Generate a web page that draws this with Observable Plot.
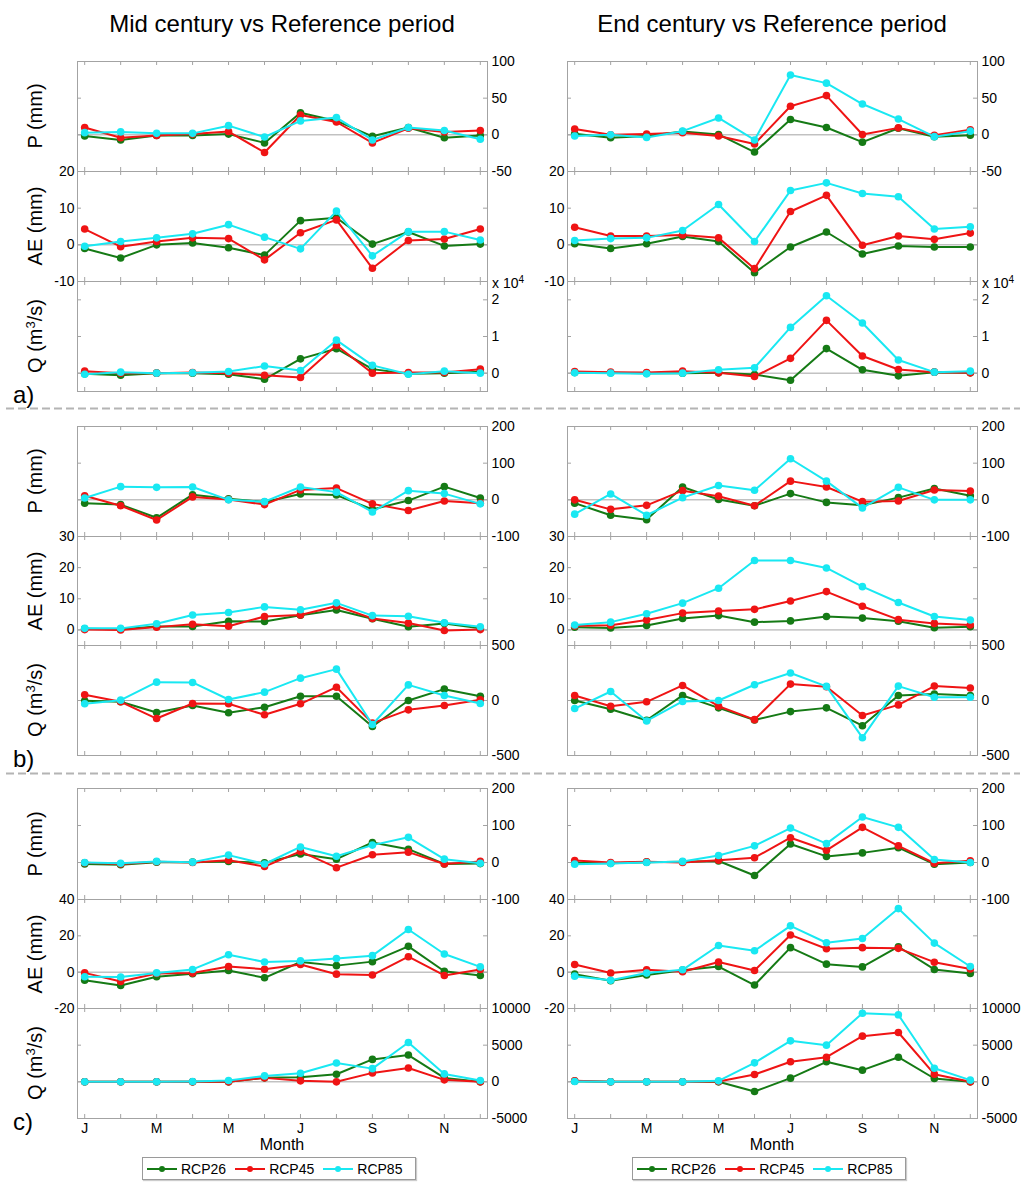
<!DOCTYPE html>
<html><head><meta charset="utf-8">
<script src="https://cdn.jsdelivr.net/npm/d3@7"></script>
<script src="https://cdn.jsdelivr.net/npm/@observablehq/plot@0.6"></script>
<style>
body{margin:0;background:#fff;font-family:"Liberation Sans",Arial,sans-serif;color:#000;}
#root{position:relative;width:1024px;height:1194px;overflow:hidden;background:#fff;}
.abs{position:absolute;white-space:nowrap;}
.title{font-size:24px;line-height:24px;transform:translateX(-50%);}
.ylab{font-size:20px;line-height:20px;transform:translate(-50%,-50%) rotate(-90deg);}
.ylab sup{font-size:13px;vertical-align:7px;line-height:0;}
.glab{font-size:24px;line-height:24px;}
.mult{font-size:14px;line-height:14px;}
.mult sup{font-size:10px;vertical-align:5px;line-height:0;}
.month{font-size:16px;line-height:16px;transform:translateX(-50%);}
.legend{border:1px solid #9a9a9a;box-shadow:1px 1px 1px #ccc;height:23px;display:flex;align-items:center;padding:0 4px;box-sizing:border-box;font-size:14px;}
.legend .it{display:flex;align-items:center;margin-right:9px;}
.legend svg{margin-right:4px;}
</style></head><body><div id="root"></div>
<script>
// ---------- data ----------
const months = [1,2,3,4,5,6,7,8,9,10,11,12];
const monthTicks = [1,3,5,7,9,11];
const monthLetters = ["J","F","M","A","M","J","J","A","S","O","N","D"];
const series = ["RCP26","RCP45","RCP85"];
const columnTitles = ["Mid century vs Reference period","End century vs Reference period"];
const groupLabels = ["a)","b)","c)"];
const varLabels = ["P (mm)","AE (mm)","Q (m<sup>3</sup>/s)"];

// each: [RCP26, RCP45, RCP85], Jan..Dec
const a_mid_P = [
  [-1.5,-7,-1,-1,1,-11,30,19,-2,10,-4,-1],
  [10,-4,-1,1,4.5,-24,27,17.5,-11,9,4,6],
  [3,4,2,2,12.5,-3,19,23.5,-7,10,6,-6]];
const a_mid_AE = [
  [-1,-3.6,0,0.5,-0.8,-2.8,6.6,7.4,0.2,3.5,-0.3,0.2],
  [4.3,-0.5,0.9,1.9,1.7,-4.1,3.3,6.8,-6.4,1.2,1.6,4.3],
  [-0.4,0.9,1.9,3,5.5,2.1,-1.1,9.2,-3,3.6,3.6,1.3]];
const a_mid_Q = [
  [-185,-550,0,0,-280,-1670,3900,6670,1100,-185,0,370],
  [550,0,0,185,0,-550,-1200,7600,0,200,200,1100],
  [-280,280,0,90,460,1940,740,9000,2130,-280,550,0]];
const a_end_P = [
  [1.5,-4,-1.5,4.5,0.5,-23.5,21,10,-10,9,-2.5,-0.5],
  [8,0,1,3,-1.5,-12.5,39,53.5,0.5,9.5,-0.5,7],
  [-1.5,0,-3.5,5,23,-7,81.5,70.5,42,21.5,-2.5,5]];
const a_end_AE = [
  [0.3,-1,0.3,2.3,0.9,-7.6,-0.6,3.5,-2.5,-0.3,-0.6,-0.6],
  [4.8,2.4,2.4,2.7,1.9,-6.5,9.1,13.5,-0.1,2.4,1.5,3.2],
  [1.2,1.7,1.9,3.9,11,0.9,14.8,16.9,14,13.1,4.3,4.9]];
const a_end_Q = [
  [180,90,0,0,90,-370,-1930,6700,920,-730,275,90],
  [460,275,180,550,90,-920,4040,14400,4680,1000,275,90],
  [90,0,-180,0,920,1470,12480,21100,13670,3580,275,550]];

const b_mid_P = [
  [-9,-13,-49,14,3,-6,16,13,-26,-2,36,5],
  [11,-16,-55,8,1,-13,27,32,-11,-29,-3,-9],
  [5,36,34,35,0,-5,35,21,-33,25,17,-11]];
const b_mid_AE = [
  [0.4,0.2,1.1,1.1,2.8,2.7,4.7,6.4,3.6,1,2.1,0.5],
  [0.1,0,0.9,1.8,1.2,4.3,4.8,7.7,3.7,2.2,-0.2,0.1],
  [0.5,0.5,2,4.8,5.6,7.4,6.5,8.7,4.6,4.4,2.3,1]];
const b_mid_Q = [
  [-3,-12,-109,-45,-112,-61,39,39,-236,0,103,39],
  [52,-12,-164,-27,-30,-130,-30,121,-206,-85,-45,6],
  [-30,3,167,164,9,76,203,285,-218,142,45,-27]];
const b_end_P = [
  [-9,-42,-54,35,1,-16,17,-7,-15,6,31,11],
  [0,-26,-15,25,10,-16,51,35,-5,-3,27,24],
  [-39,16,-42,6,39,26,112,51,-22,34,0,0]];
const b_end_AE = [
  [0.9,0.6,1.4,3.7,4.6,2.5,2.9,4.3,3.8,2.8,0.7,1],
  [1.3,1.5,3.2,5.4,6.1,6.6,9.3,12.3,7.6,3.3,2.1,1.6],
  [1.6,2.5,5.2,8.6,13.4,22.3,22.3,19.9,13.9,8.8,4.3,3.2]];
const b_end_Q = [
  [0,-79,-180,46,-67,-177,-101,-67,-229,46,58,46],
  [46,-52,-12,137,-52,-174,149,125,-137,-40,131,113],
  [-73,82,-186,-9,0,143,250,128,-338,131,30,30]];

const c_mid_P = [
  [-4,-6,1,1,3,-1,23,9,54,36,-4,-3],
  [-1,-4,2,0,6,-11,30,-14,21,28,-4,3],
  [0,-2,3,1,20,-4,42,17,47,68,9,-2]];
const c_mid_AE = [
  [-4.4,-7.3,-2.5,-0.9,0.9,-3.1,5.6,3.6,5.8,14.2,0.5,-1.8],
  [-0.4,-5.1,-0.7,-0.5,3.1,1.6,4.2,-1.1,-1.6,8.5,-1.8,1.5],
  [-2.5,-2.7,-0.4,1.5,9.6,5.6,6.2,7.5,9.1,23.5,10,2.9]];
const c_mid_Q = [
  [0,0,0,0,0,540,630,1040,3060,3650,540,0],
  [0,0,0,0,0,540,135,0,1220,1890,270,0],
  [0,0,0,45,180,810,1170,2570,1800,5360,1080,180]];
const c_end_P = [
  [-1,-2,1,2,4,-35,50,16.5,26,40,-4.5,0],
  [5.5,0,2,0,6,13,67,33,95,45,-2,4.5],
  [-4.5,-3,0,3,19,45,93,51,123,95,8,0]];
const c_end_AE = [
  [-1.1,-4.7,-1.6,1.1,3.1,-7.1,13.5,4.4,2.9,14,1.5,-0.7],
  [4.2,-0.5,1.3,0.2,5.6,0.9,20.5,12.9,13.5,13.1,5.5,1.8],
  [-2.2,-4.5,-0.5,1.3,14.7,11.8,25.5,16.2,18.5,35,16,3.1]];
const c_end_Q = [
  [90,0,0,0,0,-1320,500,2730,1590,3360,455,0],
  [136,0,0,0,45,1000,2730,3360,6230,6730,1045,0],
  [45,0,0,0,136,2590,5590,5000,9360,9140,1860,227]];

// axis domains / tick values per group (P, AE, Q)
const a_domains = [[-50,100],[-10,20],[-5000,25000]];
const a_ticks = [[-50,0,50,100],[-10,0,10,20],[0,10000,20000]];
const b_domains = [[-100,200],[-5,30],[-500,500]];
const b_ticks = [[-100,0,100,200],[0,10,20,30],[-500,0,500]];
const c_domains = [[-100,200],[-20,40],[-5000,10000]];
const c_ticks = [[-100,0,100,200],[-20,0,20,40],[-5000,0,5000,10000]];

// ---------- styles / layout ----------
const colors = ["#157a15","#ef1414","#19e8f2"];
const gray = "#a3a3a3";
const FONT = '"Liberation Sans", Arial, sans-serif';
const colLeft = [77, 567];
const W = 410;
const groupTops = [[61,171,281],[426,536,645],[788,899,1008]];
const groupHeights = [[110,110,110],[110,109,110],[111,109,110]];
const axisSide = ["right","left","right"];

const root = document.getElementById("root");
function addDiv(cls, html, left, top){
  const d = document.createElement("div");
  d.className = "abs " + cls; d.innerHTML = html;
  d.style.left = left + "px"; d.style.top = top + "px";
  root.appendChild(d); return d;
}

function panel(values, domain, ticks, side, fmt, left, top, h, showMonths){
  const rows = [];
  series.forEach((s,i) => values[i].forEach((v,j) => rows.push({series:s, month:months[j], value:v})));
  const mL = 40, mR = 50, mT = 10, mB = showMonths ? 34 : 10;
  const marks = [
    Plot.ruleY([0], {stroke: gray, strokeWidth: 1}),
    Plot.tickX(months, {x: d => d, stroke: gray, insetBottom: h - 4}),
    Plot.tickX(months, {x: d => d, stroke: gray, insetTop: h - 4}),
    Plot.tickY(ticks, {y: d => d, stroke: gray, insetRight: W - 4}),
    Plot.tickY(ticks, {y: d => d, stroke: gray, insetLeft: W - 4}),
    Plot.frame({stroke: gray})
  ];
  series.forEach(s => {
    const d = rows.filter(r => r.series === s);
    marks.push(Plot.line(d, {x: "month", y: "value", stroke: "series", strokeWidth: 2}));
    marks.push(Plot.dot(d, {x: "month", y: "value", fill: "series", r: 3.8}));
  });
  const svg = Plot.plot({
    width: W + mL + mR, height: h + mT + mB,
    marginLeft: mL, marginRight: mR, marginTop: mT, marginBottom: mB,
    x: {domain: [0.8, 12.2], axis: showMonths ? "bottom" : null, ticks: monthTicks,
        tickFormat: m => monthLetters[m - 1], tickSize: 0, tickPadding: 5, label: null},
    y: {domain, axis: side, ticks, tickFormat: fmt, tickSize: 0, tickPadding: side === "left" ? 3 : 4, label: null},
    color: {domain: series, range: colors},
    style: {background: "transparent", overflow: "visible", fontSize: "14px", fontFamily: FONT, color: "#000"},
    marks
  });
  svg.style.position = "absolute";
  svg.style.left = (left - mL) + "px";
  svg.style.top = (top - mT) + "px";
  root.appendChild(svg);
}

const groups = [
  {vals: [[a_mid_P,a_mid_AE,a_mid_Q],[a_end_P,a_end_AE,a_end_Q]], dom: a_domains, tk: a_ticks},
  {vals: [[b_mid_P,b_mid_AE,b_mid_Q],[b_end_P,b_end_AE,b_end_Q]], dom: b_domains, tk: b_ticks},
  {vals: [[c_mid_P,c_mid_AE,c_mid_Q],[c_end_P,c_end_AE,c_end_Q]], dom: c_domains, tk: c_ticks}
];

groups.forEach((g, gi) => {
  for (let c = 0; c < 2; c++) {
    for (let v = 0; v < 3; v++) {
      const fmt = (gi === 0 && v === 2) ? (d => String(d / 10000)) : (d => String(d));
      panel(g.vals[c][v], g.dom[v], g.tk[v], axisSide[v], fmt,
        colLeft[c], groupTops[gi][v], groupHeights[gi][v], gi === 2 && v === 2);
    }
  }
  // variable labels (left column)
  for (let v = 0; v < 3; v++) {
    addDiv("ylab", varLabels[v], 35, groupTops[gi][v] + groupHeights[gi][v] / 2);
  }
  const bottom = groupTops[gi][2] + groupHeights[gi][2];
  addDiv("glab", groupLabels[gi], 13, bottom - 8);
});

// x 10^4 multipliers
colLeft.forEach(x => addDiv("mult", "x 10<sup>4</sup>", x + W + 5, 276));

// column titles and Month labels
columnTitles.forEach((t, c) => {
  addDiv("title", t, colLeft[c] + W / 2, 12);
  addDiv("month", "Month", colLeft[c] + W / 2, 1137);
});

// dashed separators
const sep = d3.select(root).append("svg").attr("class","abs")
  .style("left","0px").style("top","0px").attr("width",1024).attr("height",1194)
  .style("pointer-events","none");
[408.5, 773.5].forEach(y => sep.append("line").attr("x1",6).attr("x2",1020).attr("y1",y).attr("y2",y)
  .attr("stroke","#b4b4b4").attr("stroke-width",2).attr("stroke-dasharray","8,4"));

// legends
colLeft.forEach(x => {
  const lg = document.createElement("div");
  lg.className = "abs legend";
  lg.style.left = (x + 65) + "px"; lg.style.top = "1157px";
  series.forEach((s, i) => {
    const it = document.createElement("div"); it.className = "it";
    it.innerHTML = `<svg width="30" height="10"><line x1="0" x2="30" y1="5" y2="5" stroke="${colors[i]}" stroke-width="2"/><circle cx="15" cy="5" r="3" fill="${colors[i]}"/></svg><span>${s}</span>`;
    lg.appendChild(it);
  });
  root.appendChild(lg);
});
</script></body></html>
